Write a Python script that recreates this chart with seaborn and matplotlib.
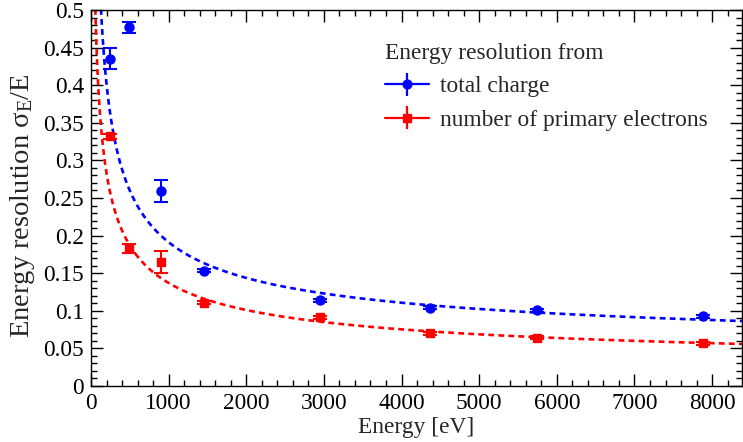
import numpy as np
import pandas as pd
import matplotlib
matplotlib.use("Agg")
import matplotlib.pyplot as plt
import seaborn as sns
from matplotlib.ticker import MultipleLocator, FuncFormatter

# ---- data ----
energy = [244, 493, 900, 1453, 2954, 4360, 5749, 7888]
res_charge = [0.435, 0.477, 0.259, 0.153, 0.114, 0.104, 0.101, 0.093]
err_charge = [0.014, 0.0077, 0.0144, 0.002, 0.002, 0.002, 0.002, 0.002]
res_primary = [0.332, 0.183, 0.165, 0.111, 0.0913, 0.070, 0.064, 0.0567]
err_primary = [0.003, 0.006, 0.015, 0.002, 0.002, 0.002, 0.002, 0.002]

# fit parameters  f(E) = a/sqrt(E) + b/E + c
fit_charge = [4.832, 5.36, 0.0330]
fit_primary = [4.045, -3.05, 0.0121]

label_charge = "total charge"
label_primary = "number of primary electrons"
legend_title = "Energy resolution from"
x_label = "Energy [eV]"
y_label = r"Energy resolution σ$_{\rm E}$/E"

XMAX = 8385
BLUE = (0, 0, 1)
RED = (1, 0, 0)

sns.set_theme(style="ticks")
plt.rcParams["font.family"] = ["Liberation Serif", "DejaVu Serif"]
plt.rcParams["mathtext.fontset"] = "custom"
plt.rcParams["mathtext.rm"] = "Liberation Serif"
plt.rcParams["mathtext.it"] = "Liberation Serif:italic"
FS = 16.8

fig = plt.figure(figsize=(7.43, 4.42), dpi=100)
ax = fig.add_axes([91 / 743, 1 - 386 / 442, 651 / 743, 376 / 442])

df = pd.DataFrame({"E": energy, "charge": res_charge, "primary": res_primary})


def model(p, e):
    e = np.asarray(e, dtype=float)
    return p[0] / np.sqrt(e) + p[1] / e + p[2]


grid = np.linspace(30, XMAX, 1200)
fit_df = pd.DataFrame({"E": grid,
                       "charge": model(fit_charge, grid),
                       "primary": model(fit_primary, grid)})

sns.lineplot(data=fit_df, x="E", y="charge", ax=ax, color=BLUE, lw=1.9,
             dashes=False, linestyle=(0, (2.2, 1.6)), legend=False)
sns.lineplot(data=fit_df, x="E", y="primary", ax=ax, color=RED, lw=1.9,
             dashes=False, linestyle=(0, (2.2, 1.6)), legend=False)

ax.errorbar(df["E"], df["charge"], yerr=err_charge, fmt="o", color=BLUE,
            ms=6.5, elinewidth=1.5, capsize=4.7, capthick=1.5, zorder=5)
ax.errorbar(df["E"], df["primary"], yerr=err_primary, fmt="s", color=RED,
            ms=6.2, elinewidth=1.5, capsize=4.7, capthick=1.5, zorder=5)

# legend proxies (no caps, line + marker + vertical bar)
h1 = ax.errorbar([], [], yerr=[], fmt="-o", color=BLUE, ms=6.3, lw=1.6,
                 elinewidth=1.6, capsize=0, label=label_charge)
h2 = ax.errorbar([], [], yerr=[], fmt="-s", color=RED, ms=6.0, lw=1.6,
                 elinewidth=1.6, capsize=0, label=label_primary)
leg = ax.legend(handles=[h1, h2], title=legend_title, loc="upper left",
                bbox_to_anchor=(385 / 743, 1 - 43 / 442),
                bbox_transform=fig.transFigure, frameon=False,
                fontsize=FS, title_fontsize=FS, alignment="left",
                borderpad=0, borderaxespad=0, handlelength=1.9,
                handletextpad=0.45, labelspacing=0.52, numpoints=1)

ax.set_xlim(0, XMAX)
ax.set_ylim(0, 0.5)
ax.xaxis.set_major_locator(MultipleLocator(1000))
ax.xaxis.set_minor_locator(MultipleLocator(200))
ax.yaxis.set_major_locator(MultipleLocator(0.05))
ax.yaxis.set_minor_locator(MultipleLocator(0.01))
ax.yaxis.set_major_formatter(FuncFormatter(lambda v, p: "%g" % round(v, 3)))
ax.xaxis.set_major_formatter(FuncFormatter(lambda v, p: "%d" % round(v)))

ax.tick_params(which="both", direction="in", top=True, right=True,
               width=1.0, color="black", labelsize=FS, labelcolor="black")
ax.tick_params(which="major", length=8.6, pad=5)
ax.tick_params(which="minor", length=4.3)
for s in ax.spines.values():
    s.set_linewidth(1.0)
    s.set_color("black")

ax.set_xlabel(x_label, fontsize=FS, labelpad=2)
ax.set_ylabel(y_label, fontsize=20.5)
ax.yaxis.set_label_coords(-0.0835, 0.479)
ax.grid(False)

fig.savefig("out.png", dpi=100)
